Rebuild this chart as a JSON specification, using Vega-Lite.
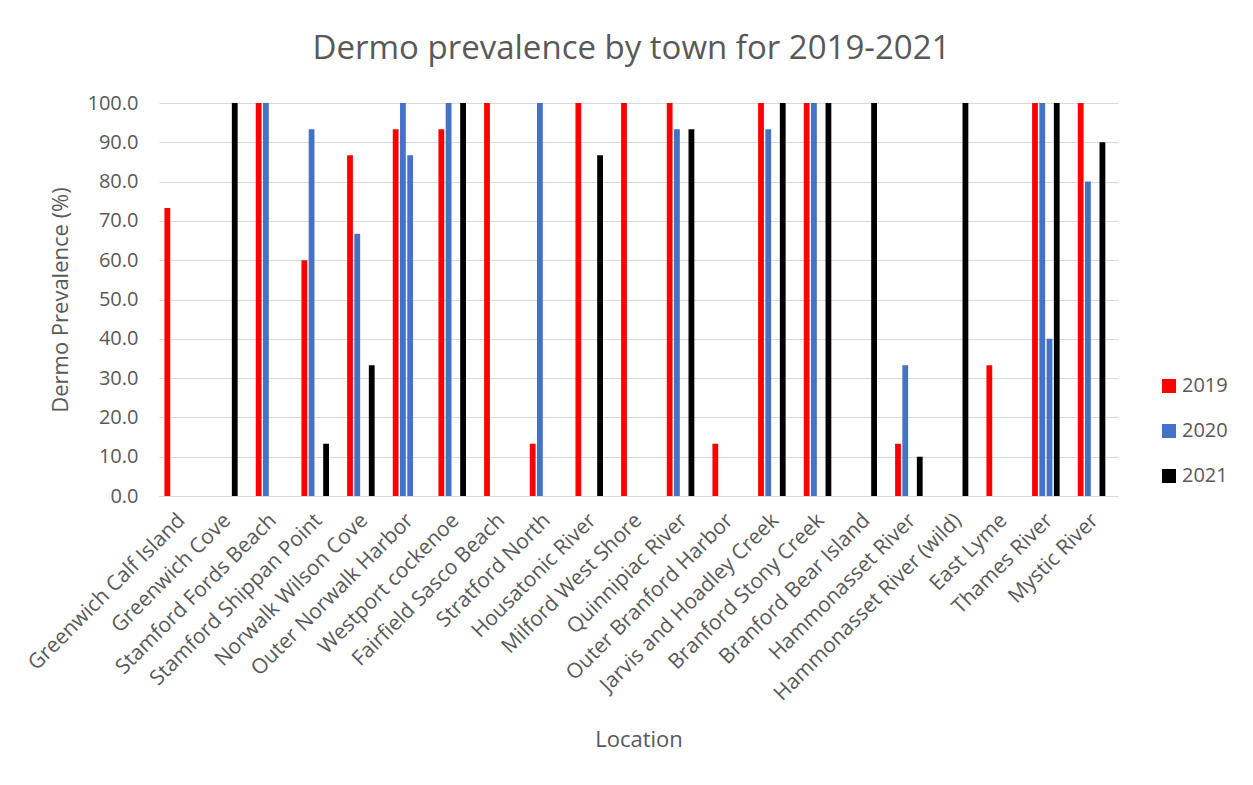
{
  "$schema": "https://vega.github.io/schema/vega-lite/v6.json",
  "width": 959,
  "height": 393,
  "autosize": "none",
  "padding": {"left": 159, "top": 103, "right": 135, "bottom": 289},
  "background": "white",
  "title": {
    "text": "Dermo prevalence by town for 2019-2021",
    "font": "Open Sans",
    "fontSize": 33,
    "fontWeight": "normal",
    "color": "#595959",
    "anchor": "middle",
    "baseline": "alphabetic",
    "offset": 1,
    "dx": -7
  },
  "data": {
    "values": [
      {"loc": "Greenwich Calf Island", "series": "2019", "value": 73.3},
      {"loc": "Greenwich Cove", "series": "2021", "value": 100},
      {"loc": "Stamford Fords Beach", "series": "2019", "value": 100},
      {"loc": "Stamford Fords Beach", "series": "2020", "value": 100},
      {"loc": "Stamford Shippan Point", "series": "2019", "value": 60},
      {"loc": "Stamford Shippan Point", "series": "2020", "value": 93.3},
      {"loc": "Stamford Shippan Point", "series": "2021", "value": 13.3},
      {"loc": "Norwalk Wilson Cove", "series": "2019", "value": 86.7},
      {"loc": "Norwalk Wilson Cove", "series": "2020", "value": 66.7},
      {"loc": "Norwalk Wilson Cove", "series": "2021", "value": 33.3},
      {"loc": "Outer Norwalk Harbor", "series": "2019", "value": 93.3},
      {"loc": "Outer Norwalk Harbor", "series": "2020", "value": 100},
      {"loc": "Outer Norwalk Harbor", "series": "2020b", "value": 86.7},
      {"loc": "Westport cockenoe", "series": "2019", "value": 93.3},
      {"loc": "Westport cockenoe", "series": "2020", "value": 100},
      {"loc": "Westport cockenoe", "series": "2021", "value": 100},
      {"loc": "Fairfield Sasco Beach", "series": "2019", "value": 100},
      {"loc": "Stratford North", "series": "2019", "value": 13.3},
      {"loc": "Stratford North", "series": "2020", "value": 100},
      {"loc": "Housatonic River", "series": "2019", "value": 100},
      {"loc": "Housatonic River", "series": "2021", "value": 86.7},
      {"loc": "Milford West Shore", "series": "2019", "value": 100},
      {"loc": "Quinnipiac River", "series": "2019", "value": 100},
      {"loc": "Quinnipiac River", "series": "2020", "value": 93.3},
      {"loc": "Quinnipiac River", "series": "2021", "value": 93.3},
      {"loc": "Outer Branford Harbor", "series": "2019", "value": 13.3},
      {"loc": "Jarvis and Hoadley Creek", "series": "2019", "value": 100},
      {"loc": "Jarvis and Hoadley Creek", "series": "2020", "value": 93.3},
      {"loc": "Jarvis and Hoadley Creek", "series": "2021", "value": 100},
      {"loc": "Branford Stony Creek", "series": "2019", "value": 100},
      {"loc": "Branford Stony Creek", "series": "2020", "value": 100},
      {"loc": "Branford Stony Creek", "series": "2021", "value": 100},
      {"loc": "Branford Bear Island", "series": "2021", "value": 100},
      {"loc": "Hammonasset River", "series": "2019", "value": 13.3},
      {"loc": "Hammonasset River", "series": "2020", "value": 33.3},
      {"loc": "Hammonasset River", "series": "2021", "value": 10},
      {"loc": "Hammonasset River (wild)", "series": "2021", "value": 100},
      {"loc": "East Lyme", "series": "2019", "value": 33.3},
      {"loc": "Thames River", "series": "2019", "value": 100},
      {"loc": "Thames River", "series": "2020", "value": 100},
      {"loc": "Thames River", "series": "2020b", "value": 40},
      {"loc": "Thames River", "series": "2021", "value": 100},
      {"loc": "Mystic River", "series": "2019", "value": 100},
      {"loc": "Mystic River", "series": "2020", "value": 80},
      {"loc": "Mystic River", "series": "2021", "value": 90}
    ]
  },
  "mark": {"type": "bar"},
  "encoding": {
    "x": {
      "field": "loc",
      "type": "nominal",
      "sort": null,
      "scale": {"paddingInner": 0, "paddingOuter": 0},
      "axis": {
        "title": "Location",
        "titleFont": "Open Sans",
        "titleFontSize": 22,
        "titleFontWeight": "normal",
        "titleColor": "#595959",
        "titleBaseline": "middle",
        "titleY": 243,
        "labelFont": "Open Sans",
        "labelFontSize": 21,
        "labelColor": "#595959",
        "labelAngle": -45,
        "labelAlign": "right",
        "labelBaseline": "middle",
        "labelPadding": 21,
        "labelLimit": 400,
        "ticks": false,
        "domainColor": "#D9D9D9",
        "domainWidth": 1
      }
    },
    "xOffset": {
      "field": "series",
      "type": "nominal",
      "scale": {"domain": ["2019", "2020", "2020b", "2021", "extra"], "paddingInner": 0.2, "paddingOuter": 0.75}
    },
    "y": {
      "field": "value",
      "type": "quantitative",
      "scale": {"domain": [0, 100], "nice": false},
      "axis": {
        "title": "Dermo Prevalence (%)",
        "titleFont": "Open Sans",
        "titleFontSize": 22,
        "titleFontWeight": "normal",
        "titleColor": "#595959",
        "titleX": -99,
        "titleBaseline": "middle",
        "values": [0, 10, 20, 30, 40, 50, 60, 70, 80, 90, 100],
        "format": ".1f",
        "labelFont": "Open Sans",
        "labelFontSize": 20,
        "labelColor": "#595959",
        "labelPadding": 21,
        "ticks": false,
        "domain": false,
        "grid": true,
        "gridColor": "#D9D9D9",
        "gridWidth": 1
      }
    },
    "color": {
      "field": "series",
      "type": "nominal",
      "scale": {"domain": ["2019", "2020", "2020b", "2021"], "range": ["#FF0000", "#4472C4", "#4472C4", "#000000"]},
      "legend": {
        "title": null,
        "values": ["2019", "2020", "2021"],
        "orient": "none",
        "legendX": 1000,
        "legendY": 273,
        "symbolType": "square",
        "symbolSize": 196,
        "symbolStrokeWidth": 0,
        "labelFont": "Open Sans",
        "labelFontSize": 20,
        "labelColor": "#595959",
        "labelOffset": 3,
        "rowPadding": 25
      }
    }
  },
  "config": {"view": {"stroke": null}}
}
